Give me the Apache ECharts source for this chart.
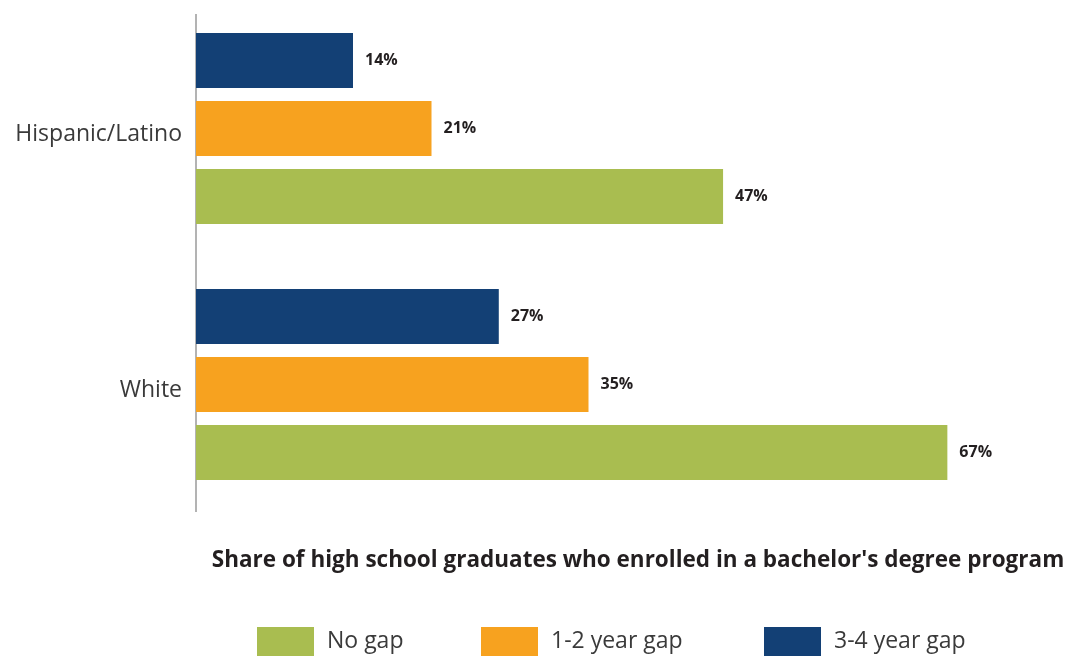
<!DOCTYPE html>
<html>
<head>
<meta charset="utf-8">
<script src="https://cdn.jsdelivr.net/npm/echarts@6/dist/echarts.min.js"></script>
<style>html,body{margin:0;padding:0;background:#fff}#c{width:1069px;height:656px}</style>
</head>
<body>
<div id="c"></div>
<script>
const categories = ['Hispanic/Latino', 'White'];
const seriesNames = ['No gap', '1-2 year gap', '3-4 year gap'];
const noGap = [47, 67];
const gap12 = [21, 35];
const gap34 = [14, 27];
const axisTitle = "Share of high school graduates who enrolled in a bachelor's degree program";

const colors = { 'No gap': '#a9bd50', '1-2 year gap': '#f7a21f', '3-4 year gap': '#134075' };
const legendLeft = { 'No gap': 257, '1-2 year gap': 481, '3-4 year gap': 764 };
const FONT = 'Open Sans';

const chart = echarts.init(document.getElementById('c'), null, { renderer: 'canvas' });

function mk(name, data) {
  return {
    name: name,
    type: 'bar',
    data: data,
    barWidth: 55,
    barGap: '23.6%',
    itemStyle: { color: colors[name] },
    label: {
      show: true,
      position: 'right',
      distance: 12,
      formatter: '{c}%',
      fontFamily: FONT,
      fontWeight: 'bold',
      fontSize: 16,
      color: '#231f20'
    },
    animation: false
  };
}

chart.setOption({
  animation: false,
  textStyle: { fontFamily: FONT },
  grid: { left: 196, top: 0.5, height: 512, width: 785, containLabel: false },
  xAxis: {
    type: 'value', min: 0, max: 70,
    show: false
  },
  yAxis: {
    type: 'category',
    data: categories,
    inverse: true,
    axisLine: { show: false },
    axisTick: { show: false },
    axisLabel: {
      margin: 14, fontSize: 23, color: '#3a3a3a', fontFamily: FONT,
      verticalAlign: 'top', lineHeight: 12
    }
  },
  graphic: [{
    type: 'line',
    shape: { x1: 196, y1: 14, x2: 196, y2: 512 },
    style: { stroke: '#9a9a9a', lineWidth: 1.5 },
    silent: true
  }],
  title: {
    text: axisTitle,
    left: 638, top: 549, padding: 0, textAlign: 'center',
    textStyle: { fontFamily: FONT, fontWeight: 'bold', fontSize: 22.5, color: '#231f20' }
  },
  legend: seriesNames.map(n => ({
    data: [n],
    left: legendLeft[n], top: 627, padding: 0,
    itemWidth: 57, itemHeight: 29,
    icon: 'rect',
    textStyle: { fontFamily: FONT, fontSize: 23, color: '#3a3a3a', padding: [0, 0, 0, 8] },
    selectedMode: false
  })),
  series: [mk('3-4 year gap', gap34), mk('1-2 year gap', gap12), mk('No gap', noGap)]
});
</script>
</body>
</html>
